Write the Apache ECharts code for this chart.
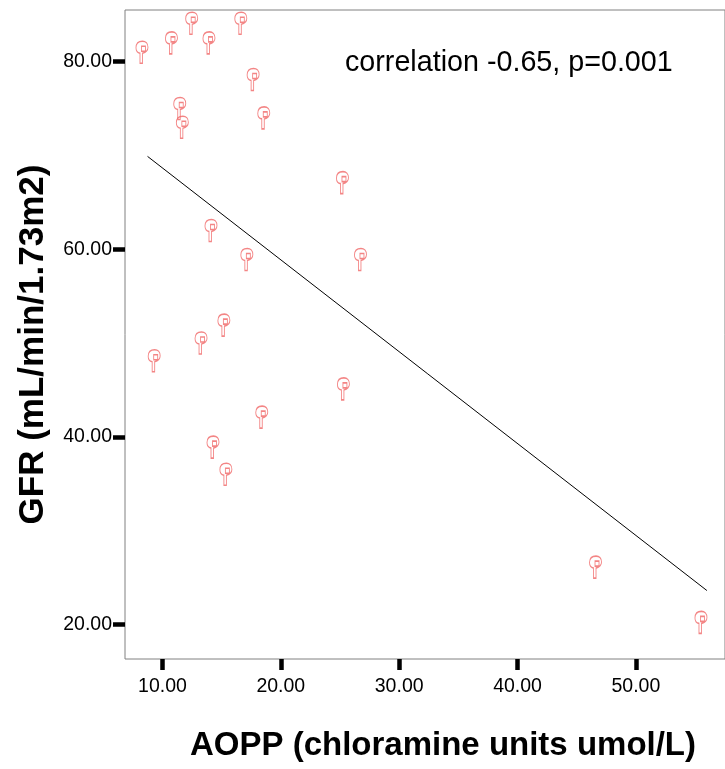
<!DOCTYPE html>
<html>
<head>
<meta charset="utf-8">
<script src="https://cdn.jsdelivr.net/npm/echarts@6/dist/echarts.min.js"></script>
<style>
  html, body { margin: 0; padding: 0; background: #fff; }
  #chart { width: 725px; height: 769px; }
</style>
</head>
<body>
<div id="chart"></div>
<script>
// AOPP values (x) and GFR values (y)
const aopp = [8.27, 10.76, 12.47, 13.93, 16.62, 17.66, 11.46, 11.68, 18.56, 25.21, 14.10,
              17.13, 26.73, 15.19, 13.26, 9.30, 25.29, 18.39, 14.27, 15.36, 46.59, 55.50];
const gfr  = [81.0, 82.0, 84.1, 82.0, 84.1, 78.1, 75.0, 73.0, 74.0, 67.1, 62.0,
              58.9, 58.9, 51.9, 50.0, 48.1, 45.1, 42.1, 38.9, 36.0, 26.1, 20.2];

// fit line end points
const fitX = [8.74, 56.0];
const fitY = [69.9, 23.6];

const xTicks = [10, 20, 30, 40, 50];
const yTicks = [20, 40, 60, 80];

const corrText = 'correlation -0.65, p=0.001';

// pointing hand marker, like the SPSS one
const handPath = 'path://M4,22 L4,12 C1.5,11.5 0,9.5 0,6.5 C0,2.5 2.5,0 6.5,0 C10,0 12,2.5 12,6 C12,9 10.5,11 6.5,12 L6.5,22 Z M5.5,5 L9.5,5 L9.5,10 L5.5,10 Z';

document.addEventListener('DOMContentLoaded', () => {
    const chart = echarts.init(document.getElementById('chart'));

    const option = {
        animation: false,
        backgroundColor: '#fff',
        title: {
            text: corrText,
            left: 345,
            top: 49,
            padding: 0,
            textStyle: {
                fontFamily: 'Liberation Sans',
                fontSize: 28.7,
                fontWeight: 'normal',
                color: '#000'
            }
        },
        grid: {
            left: 125,
            top: 10,
            right: -3,
            bottom: 110,
            show: true,
            borderColor: '#808080',
            borderWidth: 1
        },
        xAxis: {
            type: 'value',
            min: 6.835,
            max: 57.53,
            name: 'AOPP (chloramine units umol/L)',
            nameLocation: 'middle',
            nameGap: 70,
            nameTextStyle: {
                fontFamily: 'Liberation Sans',
                fontSize: 33,
                fontWeight: 'bold',
                color: '#000',
                padding: [0, 0, 0, 36]
            },
            axisLine: { show: false },
            splitLine: { show: false },
            axisTick: {
                show: true,
                customValues: xTicks,
                length: 11,
                lineStyle: { color: '#000', width: 4.5 }
            },
            axisLabel: {
                customValues: xTicks,
                margin: 18,
                fontFamily: 'Liberation Sans',
                fontSize: 19.5,
                color: '#000',
                formatter: v => v.toFixed(2)
            }
        },
        yAxis: {
            type: 'value',
            min: 16.3,
            max: 85.51,
            name: 'GFR (mL/min/1.73m2)',
            nameLocation: 'middle',
            nameRotate: 90,
            nameGap: 74,
            nameTextStyle: {
                fontFamily: 'Liberation Sans',
                fontSize: 35,
                fontWeight: 'bold',
                color: '#000',
                padding: [0, 20, 0, 0]
            },
            axisLine: { show: false },
            splitLine: { show: false },
            axisTick: {
                show: true,
                customValues: yTicks,
                length: 12,
                lineStyle: { color: '#000', width: 4.5 }
            },
            axisLabel: {
                customValues: yTicks,
                margin: 13,
                fontFamily: 'Liberation Sans',
                fontSize: 19.5,
                color: '#000',
                formatter: v => v.toFixed(2)
            }
        },
        series: [
            {
                name: 'GFR',
                type: 'scatter',
                symbol: handPath,
                symbolSize: [12, 22],
                itemStyle: {
                    color: 'rgba(255,255,255,0)',
                    borderColor: '#f06666',
                    borderWidth: 1.2
                },
                data: aopp.map((x, i) => [x, gfr[i]])
            },
            {
                name: 'Fit',
                type: 'line',
                symbol: 'none',
                lineStyle: { color: '#000', width: 1 },
                data: fitX.map((x, i) => [x, fitY[i]])
            }
        ]
    };

    chart.setOption(option);
    window.addEventListener('resize', () => chart.resize());
});
</script>
</body>
</html>
